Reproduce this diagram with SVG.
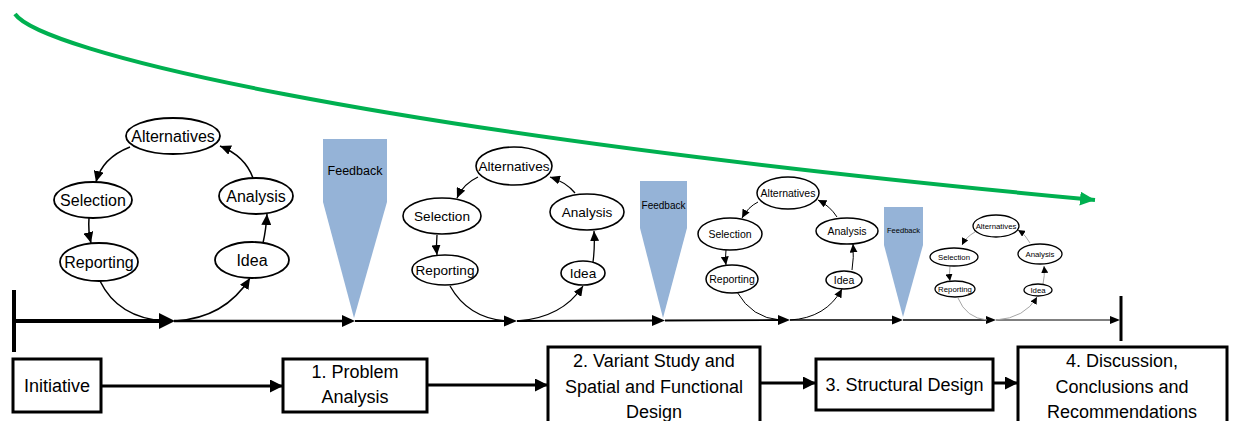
<svg xmlns="http://www.w3.org/2000/svg" width="1235" height="421" viewBox="0 0 1235 421">
<defs>
<marker id="a1" markerUnits="userSpaceOnUse" markerWidth="12" markerHeight="10" refX="11" refY="5" orient="auto"><path d="M0,0 L11,5 L0,10 z" fill="#000"/></marker>
<marker id="a2" markerUnits="userSpaceOnUse" markerWidth="11" markerHeight="9" refX="10" refY="4.5" orient="auto"><path d="M0,0 L10,4.5 L0,9 z" fill="#000"/></marker>
<marker id="a3" markerUnits="userSpaceOnUse" markerWidth="9" markerHeight="8" refX="8.5" refY="4" orient="auto"><path d="M0,0 L8.5,4 L0,8 z" fill="#000"/></marker>
<marker id="a4" markerUnits="userSpaceOnUse" markerWidth="8" markerHeight="7" refX="7" refY="3.5" orient="auto"><path d="M0,0 L7,3.5 L0,7 z" fill="#000"/></marker>
<marker id="ab" markerUnits="userSpaceOnUse" markerWidth="14" markerHeight="13" refX="13" refY="6.5" orient="auto"><path d="M0,0 L13,6.5 L0,13 z" fill="#000"/></marker>
<marker id="ag" markerUnits="userSpaceOnUse" markerWidth="16" markerHeight="14" refX="15" refY="7" orient="auto"><path d="M0,0 L15,7 L0,14 z" fill="#00B050"/></marker>
</defs>
<style>
text{font-family:"Liberation Sans",Arial,sans-serif;fill:#000;text-anchor:middle}
.el{fill:#fff;stroke:#000}
.c{fill:none;stroke:#000}
.g{fill:none;stroke:#A6A6A6}
.fb{fill:#95B3D7}
.box{fill:#fff;stroke:#000;stroke-width:3}
.bt{font-size:18px}
</style>

<path d="M15,14 C40,50 350,130 1095,200" fill="none" stroke="#00B050" stroke-width="4" marker-end="url(#ag)"/>

<g id="feedback1"><polygon class="fb" points="323,139 387,139 387,202 354,318 323,202"/><text x="355" y="175" font-size="12.5">Feedback</text></g>
<g id="feedback2"><polygon class="fb" points="640,181 687,181 687,228 663,318 640,228"/><text x="663.5" y="209" font-size="10">Feedback</text></g>
<g id="feedback3"><polygon class="fb" points="884,207 923,207 923,245 903,317 884,245"/><text x="903.5" y="233" font-size="7.5">Feedback</text></g>

<g id="connectors">
<line x1="14" y1="290" x2="14" y2="352" stroke="#000" stroke-width="4"/>
<line x1="14" y1="321" x2="162" y2="321" stroke="#000" stroke-width="4"/>
<polygon points="159,313 175,321 159,329" fill="#000"/>
<line x1="174" y1="321" x2="345" y2="321" stroke="#000" stroke-width="2.5"/>
<polygon points="342,315 355,321 342,327" fill="#000"/>
<line x1="355" y1="321" x2="506" y2="321" stroke="#000" stroke-width="2.2"/>
<polygon points="504,315.5 517,321 504,326.5" fill="#000"/>
<line x1="517" y1="321" x2="654" y2="320.5" stroke="#000" stroke-width="2"/>
<polygon points="652,315 665,320.5 652,326" fill="#000"/>
<line x1="665" y1="320.5" x2="780" y2="320" stroke="#000" stroke-width="1.8"/>
<polygon points="778,315 790,320 778,325" fill="#000"/>
<line x1="790" y1="320" x2="894" y2="320" stroke="#000" stroke-width="1.5"/>
<polygon points="892,315.5 903,320 892,324.5" fill="#000"/>
<line x1="903" y1="320" x2="987" y2="320" stroke="#000" stroke-width="1.3"/>
<polygon points="986,316 996,320 986,324" fill="#000"/>
<line x1="996" y1="320" x2="1112" y2="320" stroke="#000" stroke-width="1"/>
<polygon points="1110,316 1120,320 1110,324" fill="#000"/>
<line x1="1121" y1="296" x2="1121" y2="341" stroke="#000" stroke-width="3"/>

<path class="c" stroke-width="1.5" d="M130,147 Q102,158 96,182" marker-end="url(#a1)"/>
<path class="c" stroke-width="1.5" d="M89,218 Q88,231 91,243" marker-end="url(#a1)"/>
<path class="c" stroke-width="1.5" d="M100,281 Q118,318 165,321"/>
<path class="c" stroke-width="1.5" d="M175,321 Q225,318 250,278" marker-end="url(#a1)"/>
<path class="c" stroke-width="1.5" d="M263,243 Q266,230 267,214" marker-end="url(#a1)"/>
<path class="c" stroke-width="1.5" d="M253,178 Q245,156 220,146" marker-end="url(#a1)"/>

<path class="c" stroke-width="1.3" d="M478,177 Q463,184 457,198" marker-end="url(#a2)"/>
<path class="c" stroke-width="1.3" d="M437,235 Q436,245 437,255" marker-end="url(#a2)"/>
<path class="c" stroke-width="1.3" d="M450,286 Q468,318 506,321"/>
<path class="c" stroke-width="1.3" d="M517,321 Q562,318 583,286" marker-end="url(#a2)"/>
<path class="c" stroke-width="1.3" d="M593,262 Q595,247 594,231" marker-end="url(#a2)"/>
<path class="c" stroke-width="1.3" d="M575,193 Q566,182 550,177" marker-end="url(#a2)"/>

<path class="c" stroke-width="1" d="M758,202 Q748,207 742,218" marker-end="url(#a3)"/>
<path class="c" stroke-width="1" d="M726,250 Q725,258 726,265" marker-end="url(#a3)"/>
<path class="c" stroke-width="1" d="M737,292 Q752,318 780,320"/>
<path class="c" stroke-width="1" d="M790,320 Q826,318 842,289" marker-end="url(#a3)"/>
<path class="c" stroke-width="1" d="M852,270 Q854,258 853,244" marker-end="url(#a3)"/>
<path class="c" stroke-width="1" d="M837,217 Q830,206 818,200" marker-end="url(#a3)"/>

<path class="g" stroke-width="1" d="M975,232 Q966,237 962,245" marker-end="url(#a4)"/>
<path class="g" stroke-width="1" d="M950,266 Q949,274 950,281" marker-end="url(#a4)"/>
<path class="g" stroke-width="1" d="M958,298 Q966,318 987,320"/>
<path class="g" stroke-width="1" d="M996,320 Q1025,318 1037,297" marker-end="url(#a4)"/>
<path class="g" stroke-width="1" d="M1043,284 Q1045,276 1044,266" marker-end="url(#a4)"/>
<path class="g" stroke-width="1" d="M1030,243 Q1026,235 1018,230" marker-end="url(#a4)"/>

<line x1="101" y1="386" x2="283" y2="386" stroke="#000" stroke-width="3" marker-end="url(#ab)"/>
<line x1="427" y1="385" x2="548" y2="385" stroke="#000" stroke-width="3" marker-end="url(#ab)"/>
<line x1="760" y1="383" x2="816" y2="383" stroke="#000" stroke-width="3" marker-end="url(#ab)"/>
<line x1="993" y1="383" x2="1018" y2="383" stroke="#000" stroke-width="3" marker-end="url(#ab)"/>
</g>

<g id="cycle1" font-size="16">
<g id="c1-alternatives"><ellipse class="el" stroke-width="1.8" cx="173" cy="136" rx="47" ry="18"/><text x="173" y="142" font-size="16">Alternatives</text></g>
<g id="c1-selection"><ellipse class="el" stroke-width="1.8" cx="93" cy="200" rx="39" ry="18"/><text x="93" y="206" font-size="16">Selection</text></g>
<g id="c1-reporting"><ellipse class="el" stroke-width="1.8" cx="99" cy="262" rx="39" ry="19"/><text x="99" y="268" font-size="16">Reporting</text></g>
<g id="c1-analysis"><ellipse class="el" stroke-width="1.8" cx="256" cy="196" rx="37" ry="18"/><text x="256" y="202" font-size="16">Analysis</text></g>
<g id="c1-idea"><ellipse class="el" stroke-width="1.8" cx="252" cy="260" rx="37" ry="18"/><text x="252" y="266" font-size="16">Idea</text></g>
</g>

<g id="cycle2">
<g id="c2-alternatives"><ellipse class="el" stroke-width="1.6" cx="514" cy="166" rx="38" ry="19"/><text x="514" y="171" font-size="13.6">Alternatives</text></g>
<g id="c2-selection"><ellipse class="el" stroke-width="1.6" cx="442" cy="216" rx="39" ry="18"/><text x="442" y="221" font-size="13.6">Selection</text></g>
<g id="c2-reporting"><ellipse class="el" stroke-width="1.6" cx="445" cy="270" rx="33" ry="15"/><text x="445" y="275" font-size="13.6">Reporting</text></g>
<g id="c2-analysis"><ellipse class="el" stroke-width="1.6" cx="587" cy="212" rx="37" ry="18"/><text x="587" y="217" font-size="13.6">Analysis</text></g>
<g id="c2-idea"><ellipse class="el" stroke-width="1.6" cx="583" cy="273" rx="22" ry="12"/><text x="583" y="278" font-size="13.6">Idea</text></g>
</g>

<g id="cycle3">
<g id="c3-alternatives"><ellipse class="el" stroke-width="1.5" cx="788" cy="193" rx="31" ry="16"/><text x="788" y="197" font-size="10.5">Alternatives</text></g>
<g id="c3-selection"><ellipse class="el" stroke-width="1.5" cx="730" cy="234" rx="32" ry="16"/><text x="730" y="238" font-size="10.5">Selection</text></g>
<g id="c3-reporting"><ellipse class="el" stroke-width="1.5" cx="732" cy="279" rx="26" ry="14"/><text x="732" y="283" font-size="10.5">Reporting</text></g>
<g id="c3-analysis"><ellipse class="el" stroke-width="1.5" cx="847" cy="231" rx="31" ry="13"/><text x="847" y="235" font-size="10.5">Analysis</text></g>
<g id="c3-idea"><ellipse class="el" stroke-width="1.5" cx="844" cy="280" rx="18" ry="9"/><text x="844" y="284" font-size="10.5">Idea</text></g>
</g>

<g id="cycle4">
<g id="c4-alternatives"><ellipse class="el" stroke-width="1.3" cx="996" cy="226" rx="23" ry="11"/><text x="996" y="229" font-size="7.8">Alternatives</text></g>
<g id="c4-selection"><ellipse class="el" stroke-width="1.3" cx="954" cy="257" rx="24" ry="9"/><text x="954" y="260" font-size="7.8">Selection</text></g>
<g id="c4-reporting"><ellipse class="el" stroke-width="1.3" cx="955" cy="289" rx="20" ry="8"/><text x="955" y="292" font-size="7.8">Reporting</text></g>
<g id="c4-analysis"><ellipse class="el" stroke-width="1.3" cx="1040" cy="254" rx="22" ry="10"/><text x="1040" y="257" font-size="7.8">Analysis</text></g>
<g id="c4-idea"><ellipse class="el" stroke-width="1.3" cx="1038" cy="290" rx="14" ry="6"/><text x="1038" y="293" font-size="7.8">Idea</text></g>
</g>

<g id="initiative"><rect class="box" x="13" y="359" width="88" height="53"/><text class="bt" x="57" y="392">Initiative</text></g>
<g id="problem-analysis"><rect class="box" x="283" y="359" width="144" height="53"/><text class="bt" x="355" y="378">1. Problem</text><text class="bt" x="355" y="403">Analysis</text></g>
<g id="variant-study"><rect class="box" x="548" y="347" width="212" height="80"/><text class="bt" x="654" y="367">2. Variant Study and</text><text class="bt" x="654" y="393">Spatial and Functional</text><text class="bt" x="654" y="418">Design</text></g>
<g id="structural-design"><rect class="box" x="816" y="359" width="177" height="51"/><text class="bt" x="904.5" y="391">3. Structural Design</text></g>
<g id="discussion"><rect class="box" x="1018" y="347" width="209" height="80"/><text class="bt" x="1122" y="367">4. Discussion,</text><text class="bt" x="1122" y="393">Conclusions and</text><text class="bt" x="1122" y="418">Recommendations</text></g>
</svg>
